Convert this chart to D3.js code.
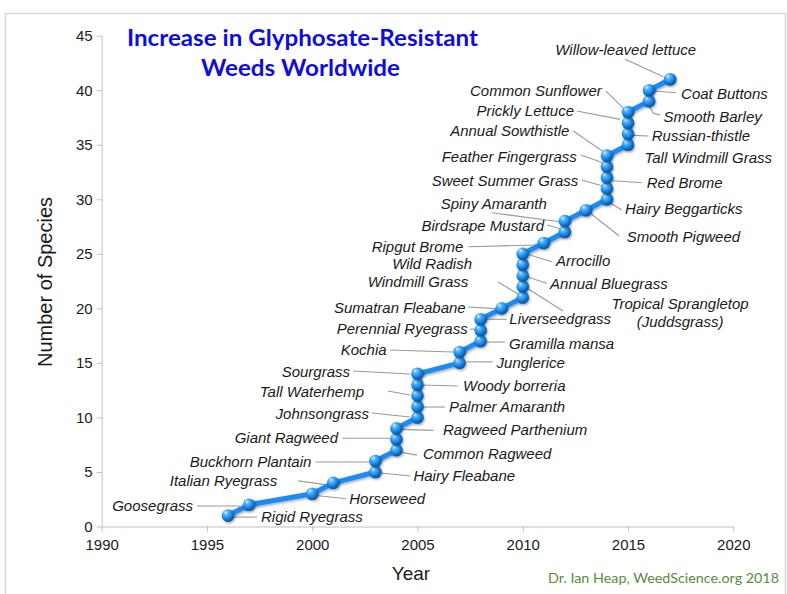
<!DOCTYPE html>
<html>
<head>
<meta charset="utf-8">
<script src="https://cdn.jsdelivr.net/npm/d3@7"></script>
<style>
  html, body { margin: 0; padding: 0; background: #fff; }
  svg { display: block; }
</style>
</head>
<body>
<svg id="chart" width="787" height="594"></svg>
<script>
// ---------------- DATA ----------------
const years = [1996, 1997, 2000, 2001, 2003, 2003, 2004, 2004, 2004,
  2005, 2005, 2005, 2005, 2005, 2007, 2007, 2008, 2008, 2008, 2009,
  2010, 2010, 2010, 2010, 2010, 2011, 2012, 2012, 2013,
  2014, 2014, 2014, 2014, 2014, 2015, 2015, 2015, 2015, 2016, 2016, 2017];
const counts = [1, 2, 3, 4, 5, 6, 7, 8, 9, 10, 11, 12, 13, 14, 15, 16, 17, 18, 19, 20,
  21, 22, 23, 24, 25, 26, 27, 28, 29, 30, 31, 32, 33, 34, 35, 36, 37, 38, 39, 40, 41];
const species = [
  ["Rigid Ryegrass"], ["Goosegrass"], ["Horseweed"], ["Italian Ryegrass"],
  ["Hairy Fleabane"], ["Buckhorn Plantain"], ["Common Ragweed"], ["Giant Ragweed"],
  ["Ragweed Parthenium"], ["Johnsongrass"], ["Palmer Amaranth"], ["Tall Waterhemp"],
  ["Woody borreria"], ["Sourgrass"], ["Junglerice"], ["Kochia"], ["Gramilla mansa"],
  ["Perennial Ryegrass"], ["Liverseedgrass"], ["Sumatran Fleabane"], ["Windmill Grass"],
  ["Tropical Sprangletop", "(Juddsgrass)"], ["Annual Bluegrass"], ["Wild Radish"],
  ["Arrocillo"], ["Ripgut Brome"], ["Birdsrape Mustard"], ["Spiny Amaranth"],
  ["Smooth Pigweed"], ["Hairy Beggarticks"], ["Sweet Summer Grass"], ["Red Brome"],
  ["Feather Fingergrass"], ["Annual Sowthistle"], ["Tall Windmill Grass"],
  ["Russian-thistle"], ["Prickly Lettuce"], ["Common Sunflower"], ["Smooth Barley"],
  ["Coat Buttons"], ["Willow-leaved lettuce"]
];
const xTicks = [1990, 1995, 2000, 2005, 2010, 2015, 2020];
const yTicks = [0, 5, 10, 15, 20, 25, 30, 35, 40, 45];
const titleLines = ["Increase in Glyphosate-Resistant", "Weeds Worldwide"];
const xTitle = "Year";
const yTitle = "Number of Species";
const credit = "Dr. Ian Heap, WeedScience.org  2018";

// ---------------- LABEL LAYOUT (pixel offsets from each point) ----------------
const labelLayout = [
  {a:"start", tx:33, ty:1.4, lead:[[5,1.5],[29,1.5]]},
  {a:"end", tx:-56, ty:1.3, lead:[[-52,1.3],[-9,1.3]]},
  {a:"start", tx:37, ty:5, lead:[[6,2],[34,5]]},
  {a:"end", tx:-56, ty:-2, lead:[[-35,-2],[-6,2]]},
  {a:"start", tx:38, ty:4, lead:[[5,1],[35,4]]},
  {a:"end", tx:-64, ty:1, lead:[[-60,1],[-6,1]]},
  {a:"start", tx:26.5, ty:4, lead:[[4,2],[20.5,5]]},
  {a:"end", tx:-58.4, ty:-1, lead:[[-54,-1],[-6,-1]]},
  {a:"start", tx:46.6, ty:1.7, lead:[[4,1],[37,2]]},
  {a:"end", tx:-48.5, ty:-3.4, lead:[[-45.5,-4.4],[-7.5,-0.4]]},
  {a:"start", tx:31.5, ty:0.5, lead:[[4.5,0.5],[27.5,0.5]]},
  {a:"end", tx:-53.5, ty:-4, lead:[[-29.5,-4.6],[-7.5,-0.6]]},
  {a:"start", tx:45.5, ty:1, lead:[[4.5,0.3],[40.5,1.3]]},
  {a:"end", tx:-67.5, ty:-2, lead:[[-64.5,-2.8],[-7.5,0.2]]},
  {a:"start", tx:37, ty:0, lead:[[7,-1],[33,-1]]},
  {a:"end", tx:-73, ty:-2, lead:[[-69.5,-2],[-6.5,0]]},
  {a:"start", tx:28.4, ty:2.2, lead:[[6,1],[24.4,1]]},
  {a:"end", tx:-13, ty:-1, lead:[[-10.6,-1],[-4.6,-1]]},
  {a:"start", tx:28.7, ty:-0.3, lead:[[6,0],[26,0]]},
  {a:"end", tx:-36, ty:-1, lead:[[-33.6,-1.4],[-5,0.3]]},
  {a:"end", tx:-54.4, ty:-15.5, lead:[[-24.7,-15.5],[-4.7,-3.5]]},
  {a:"middle", tx:157.3, ty:17.5, lead:[[4,1.5],[40.3,24.5]]},
  {a:"start", tx:27.3, ty:7.7, lead:[[4,1.1],[24,7.7]]},
  {a:"end", tx:-50.7, ty:-0.7, lead:null},
  {a:"start", tx:33.3, ty:7.2, lead:[[4,0.2],[29,7.9]]},
  {a:"end", tx:-80.4, ty:3.8, lead:[[-75.4,3.8],[-6,2]]},
  {a:"end", tx:-20.8, ty:-6, lead:[[-18,-7],[-3,-2.7]]},
  {a:"end", tx:-18, ty:-17.8, lead:[[-73,-8.4],[-4.8,0.6]]},
  {a:"start", tx:40.8, ty:26.5, lead:[[2.5,1.5],[33,25.5]]},
  {a:"start", tx:18.1, ty:9.7, lead:[[1.4,2.4],[14.8,10.7]]},
  {a:"end", tx:-28.6, ty:-7.4, lead:[[-25.2,-8.4],[-4.2,-2.4]]},
  {a:"start", tx:39.8, ty:5.2, lead:[[6.4,3.2],[34.8,5.2]]},
  {a:"end", tx:-30.2, ty:-9.6, lead:[[-26.2,-11.6],[-4.2,-3.9]]},
  {a:"end", tx:-37.6, ty:-24.7, lead:[[-33.6,-24.7],[-3.6,-4]]},
  {a:"start", tx:16.4, ty:12.9, lead:null},
  {a:"start", tx:23.7, ty:2.2, lead:[[5.4,1.5],[20.4,2.2]]},
  {a:"end", tx:-54, ty:-11.9, lead:[[-51.3,-11.9],[-8,-3.6]]},
  {a:"end", tx:-26.3, ty:-21, lead:[[-22,-21],[-4.6,-3.7]]},
  {a:"start", tx:14.3, ty:15.6, lead:[[0,4],[4,12],[11,14]]},
  {a:"start", tx:32, ty:3.1, lead:[[4.3,0.8],[27,2.5]]},
  {a:"middle", tx:-44.4, ty:-29.3, lead:[[-45,-20],[-6.7,-2.6]]}
];

// ---------------- DRAW ----------------
const svg = d3.select("#chart");
const W = 787, H = 594;
const FONT = "'Liberation Sans', Arial, Helvetica, sans-serif";

// outer frame
svg.append("rect").attr("x", 5.5).attr("y", 13.5).attr("width", 780).attr("height", 620)
  .attr("fill", "none").attr("stroke", "#d9d9d9").attr("stroke-width", 1.5);

const x = d3.scaleLinear().domain([1990, 2020]).range([101.7, 733.3]);
const y = d3.scaleLinear().domain([0, 45]).range([526.5, 35.7]);

const defs = svg.append("defs");
const grad = defs.append("radialGradient").attr("id", "ball")
  .attr("cx", "38%").attr("cy", "32%").attr("r", "68%").attr("fx", "32%").attr("fy", "26%");
grad.append("stop").attr("offset", "0%").attr("stop-color", "#e6f6ff");
grad.append("stop").attr("offset", "25%").attr("stop-color", "#5ab8ff");
grad.append("stop").attr("offset", "65%").attr("stop-color", "#1384e8");
grad.append("stop").attr("offset", "100%").attr("stop-color", "#0a4f95");
const shadow = defs.append("filter").attr("id", "shadow").attr("x", "-20%").attr("y", "-20%")
  .attr("width", "140%").attr("height", "140%");
shadow.append("feDropShadow").attr("dx", 1).attr("dy", 1.5).attr("stdDeviation", 1.2)
  .attr("flood-color", "#000").attr("flood-opacity", 0.35);

// axes
const xAxis = d3.axisBottom(x).tickValues(xTicks).tickFormat(d3.format("d"))
  .tickSizeInner(5).tickSizeOuter(0).tickPadding(8);
const gx = svg.append("g").attr("transform", `translate(0,${y(0)})`).call(xAxis);
const yAxis = d3.axisLeft(y).tickValues(yTicks).tickSizeInner(5).tickSizeOuter(0).tickPadding(4);
const gy = svg.append("g").attr("transform", `translate(${x(1990)},0)`).call(yAxis);
[gx, gy].forEach(g => {
  g.select(".domain").attr("stroke", "#bfbfbf").attr("stroke-width", 1);
  g.selectAll(".tick line").attr("stroke", "#bfbfbf");
  g.selectAll(".tick text").attr("fill", "#1a1a1a").style("font-family", FONT).style("font-size", "15px");
});

// axis titles
svg.append("text").attr("x", 411).attr("y", 573).attr("dy", "0.35em").attr("text-anchor", "middle")
  .style("font-family", FONT).style("font-size", "19px").attr("fill", "#1a1a1a").text(xTitle);
svg.append("text").attr("transform", "translate(45,282) rotate(-90)").attr("dy", "0.35em")
  .attr("text-anchor", "middle").style("font-family", FONT).style("font-size", "20px")
  .attr("fill", "#1a1a1a").text(yTitle);

// title
const title = svg.append("g");
const tPos = [[302.5, 38, 351], [300.5, 68, 199]];
titleLines.forEach((t, i) => {
  title.append("text").attr("x", tPos[i][0]).attr("y", tPos[i][1]).attr("dy", "0.35em")
    .attr("text-anchor", "middle").style("font-family", "Lato, 'Open Sans', sans-serif")
    .style("font-weight", "bold").style("font-size", "23px").attr("fill", "#0d0de0")
    .attr("textLength", tPos[i][2]).attr("lengthAdjust", "spacingAndGlyphs").text(t);
});

// credit
svg.append("text").attr("x", 779).attr("y", 578).attr("dy", "0.35em").attr("text-anchor", "end")
  .style("font-family", "Lato, 'Open Sans', sans-serif").style("font-size", "14px")
  .attr("fill", "#5b8b3a").attr("textLength", 231).attr("lengthAdjust", "spacingAndGlyphs")
  .text(credit);

const pts = years.map((yr, i) => ({px: x(yr), py: y(counts[i]), name: species[i], L: labelLayout[i]}));

// leaders
const leaderLine = d3.line();
svg.append("g").selectAll("path").data(pts.filter(p => p.L.lead)).join("path")
  .attr("d", p => leaderLine(p.L.lead.map(([dx, dy]) => [p.px + dx, p.py + dy])))
  .attr("fill", "none").attr("stroke", "#9a9a9a").attr("stroke-width", 1.1);

// series line
const line = d3.line().x((d, i) => x(years[i])).y((d, i) => y(counts[i]));
svg.append("path").datum(counts).attr("d", line).attr("fill", "none")
  .attr("stroke", "#1a8cf5").attr("stroke-width", 5).attr("stroke-linejoin", "round")
  .attr("filter", "url(#shadow)");

// markers
svg.append("g").selectAll("circle").data(pts).join("circle")
  .attr("cx", p => p.px).attr("cy", p => p.py).attr("r", 6.3)
  .attr("fill", "url(#ball)").attr("filter", "url(#shadow)");

// labels
const lg = svg.append("g").style("font-family", FONT).style("font-size", "15px")
  .style("font-style", "italic").attr("fill", "#1a1a1a");
pts.forEach(p => {
  p.name.forEach((ln, j) => {
    lg.append("text").attr("x", p.px + p.L.tx).attr("y", p.py + p.L.ty + j * 17.7)
      .attr("dy", "0.35em").attr("text-anchor", p.L.a).text(ln);
  });
});
</script>
</body>
</html>
